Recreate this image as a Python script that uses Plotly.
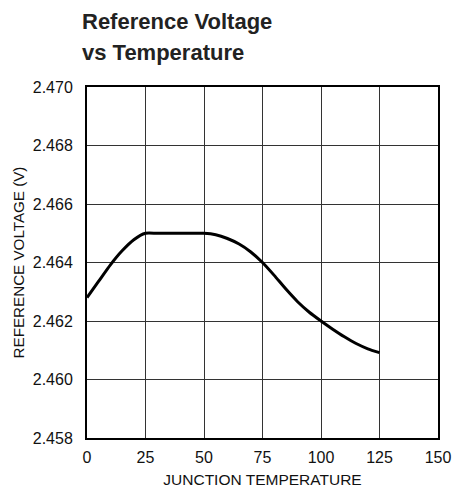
import plotly.graph_objects as go

temperature = [0, 5, 10, 15, 20, 25, 30, 40, 50, 55, 60, 65, 70, 75, 80, 85, 90, 95, 100, 105, 110, 115, 120, 125]
ref_voltage = [2.4628, 2.46336, 2.46392, 2.46440, 2.46478, 2.46500, 2.46500, 2.46500, 2.46500,
               2.46495, 2.46482, 2.46463, 2.46436, 2.46400, 2.46356, 2.46309, 2.46266, 2.46230,
               2.46200, 2.46172, 2.46146, 2.46123, 2.46105, 2.46092]

x_ticks = [0, 25, 50, 75, 100, 125, 150]
y_ticks = [2.458, 2.460, 2.462, 2.464, 2.466, 2.468, 2.470]
y_tick_text = ["2.458", "2.460", "2.462", "2.464", "2.466", "2.468", "2.470"]

title_lines = ["Reference Voltage", "vs Temperature"]
x_title = "JUNCTION TEMPERATURE"
y_title = "REFERENCE VOLTAGE (V)"

FONT = "Liberation Sans, Arial, sans-serif"

fig = go.Figure()
fig.add_trace(go.Scatter(
    x=temperature, y=ref_voltage, mode="lines",
    line=dict(color="black", width=3, shape="spline", smoothing=0.6),
    showlegend=False, hoverinfo="skip",
))

fig.update_layout(
    width=455, height=491,
    margin=dict(l=87, r=17, t=87, b=53),
    paper_bgcolor="white", plot_bgcolor="white",
    font=dict(family=FONT, color="#111", size=16),
    xaxis=dict(
        range=[0, 150], tickvals=x_ticks, ticks="", showgrid=True,
        gridcolor="#333", gridwidth=1, zeroline=False, automargin=False,
        showline=True, linecolor="black", linewidth=2, mirror=True,
        tickfont=dict(size=16), ticklabelstandoff=4, ticklabeloverflow="allow",
        title=dict(text=x_title, font=dict(size=15.5), standoff=9),
    ),
    yaxis=dict(
        range=[2.458, 2.470], tickvals=y_ticks, ticktext=y_tick_text, ticks="",
        showgrid=True, gridcolor="#333", gridwidth=1, zeroline=False, automargin=False,
        showline=True, linecolor="black", linewidth=2, mirror=True,
        tickfont=dict(size=16), ticklabelstandoff=9, ticklabeloverflow="allow",
        title=dict(text=y_title, font=dict(size=15.2), standoff=4),
    ),
)

title_y = [1.1866, 1.0997]
for line, yy in zip(title_lines, title_y):
    fig.add_annotation(
        text="<b>" + line + "</b>", xref="paper", yref="paper",
        x=0, xshift=-7, y=yy, xanchor="left", yanchor="middle",
        showarrow=False, font=dict(family=FONT, size=22, color="#222"),
    )

fig.write_html(
    "out.html",
    config={"displayModeBar": False, "staticPlot": True},
    post_script="document.body.style.margin='0';document.body.style.overflow='hidden';",
)
